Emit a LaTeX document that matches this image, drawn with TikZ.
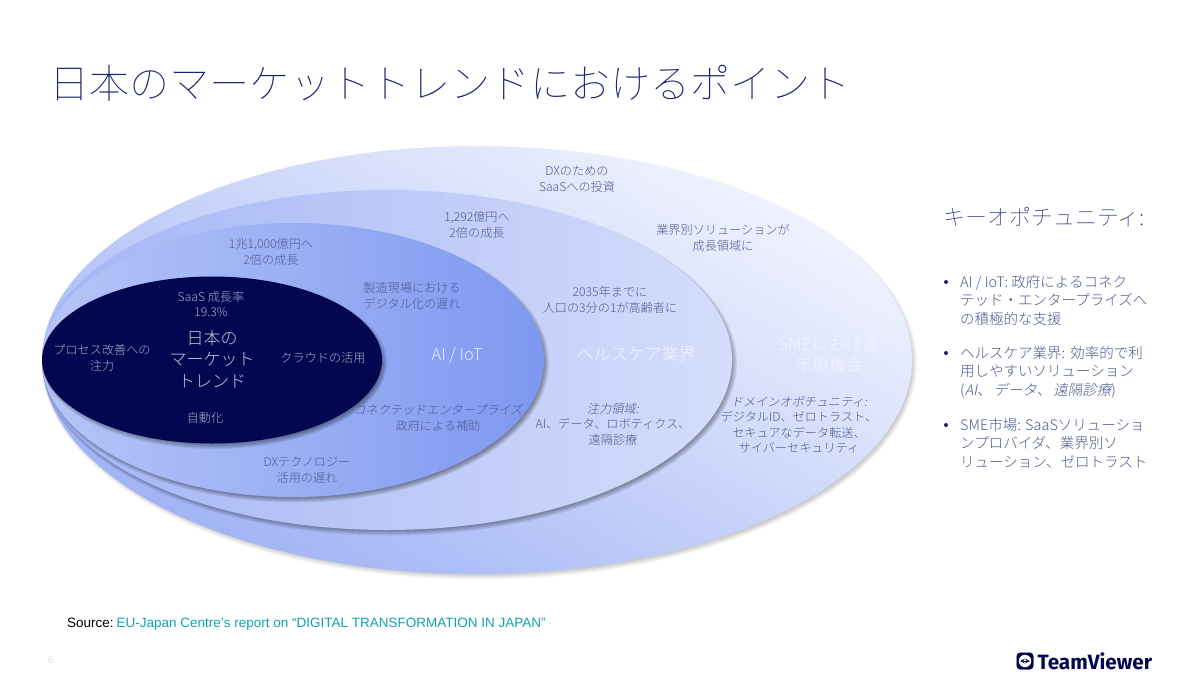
\documentclass[tikz,border=0pt]{standalone}
\usepackage{fontspec}
\setmainfont{Noto Sans CJK JP Light}
\newfontfamily\jpit[FakeSlant=0.2]{Noto Sans CJK JP Light}
\newfontfamily\jpthin{Noto Sans CJK JP Thin}
\newfontfamily\srcfont{Liberation Sans}
\newfontfamily\logofont{Fira Sans}[UprightFont=* Bold]
\definecolor{navy}{HTML}{020750}
\definecolor{lbl}{HTML}{4F5A92}
\definecolor{ttl}{HTML}{1A2470}
\definecolor{inlbl}{HTML}{A8ACC8}
\definecolor{teal}{HTML}{12A3B0}
\definecolor{oa}{HTML}{F0F3FE}
\definecolor{ob}{HTML}{A0B3F5}
\definecolor{sa}{HTML}{A3B5F5}
\definecolor{sb}{HTML}{D5DDFB}
\definecolor{ta}{HTML}{B6C5F7}
\definecolor{tm}{HTML}{9DB1F4}
\definecolor{tb}{HTML}{7E98F0}
\newcommand{\softshadow}[5]{%
  \foreach \k in {5,4,3,2,1,0}{%
    \fill[black,opacity=#5] (#1+2.5,#2+3) ellipse ({#3+\k-2.5} and {#4+\k-2.5});}}
\tikzset{
  lab/.style={font=\fontsize{12.15}{15.5}\selectfont,text=lbl,align=center,inner sep=0pt},
  inlab/.style={lab,text=inlbl},
  biglab/.style={font=\fontsize{17}{21.5}\selectfont,align=center,inner sep=0pt},
  bul/.style={font=\fontsize{14.5}{18.5}\selectfont,text=lbl,align=left,anchor=north west,inner sep=0pt},
  dot/.style={circle,fill=ttl,inner sep=0pt,minimum size=4pt}
}
\begin{document}
\begin{tikzpicture}[x=1pt,y=-1pt]
\useasboundingbox (0,0) rectangle (1200,675);
\fill[white] (0,0) rectangle (1200,675);
\node[anchor=west,inner sep=0pt,text=ttl,font=\jpthin\fontsize{40.05}{44}\selectfont] (title) at (49.5,83) {日本のマーケットトレンドにおけるポイント};
% ellipses
\softshadow{477}{360}{435}{214}{0.035}
\shade[top color=oa,bottom color=ob,shading angle=-30] (477,360) ellipse (435 and 214);
\softshadow{387}{360}{345}{170}{0.065}
\shade[left color=sa,right color=sb] (387,360) ellipse (345 and 170);
\softshadow{293}{360}{251}{137}{0.075}
\shade[left color=ta,middle color=tm,right color=tb] (293,360) ellipse (251 and 137);
\softshadow{212}{360}{170}{83.5}{0.075}
\fill[navy] (212,360) ellipse (170 and 83.5);
% labels outer
\node[lab] (dx) at (577,179) {DXのための\\SaaSへの投資};
\node[lab] (gyo) at (723,238) {業界別ソリューションが\\成長領域に};
\node[biglab,text=white,opacity=.6] (sme) at (829,355) {SMEにおける\\市場機会};
\node[lab] (dom) at (799,425) {{\jpit ドメインオポチュニティ:}\\デジタルID、ゼロトラスト、\\セキュアなデータ転送、\\サイバーセキュリティ};
% second
\node[lab] (oku) at (477,225) {1,292億円へ\\2倍の成長};
\node[lab] (y35) at (610,300) {2035年までに\\人口の3分の1が高齢者に};
\node[biglab,text=white,opacity=.75] (hc) at (636,354) {ヘルスケア業界};
\node[lab] (chu) at (613,424) {{\jpit 注力領域:}\\AI、データ、ロボティクス、\\遠隔診療};
\node[lab] (dxt) at (307,470) {DXテクノロジー\\活用の遅れ};
% third
\node[lab] (cho) at (271,252) {1兆1,000億円へ\\2倍の成長};
\node[lab] (sei) at (412,296) {製造現場における\\デジタル化の遅れ};
\node[biglab,text=white,opacity=.8,font=\fontsize{16.5}{21}\selectfont] (ai) at (457,355) {AI / IoT};
\node[lab] (con) at (438,418) {{\jpit コネクテッドエンタープライズ}\\政府による補助};
% inner
\node[inlab] (saas) at (211,304) {SaaS 成長率\\19.3\%};
\node[inlab] (pro) at (102,358) {プロセス改善への\\注力};
\node[biglab,text=inlbl!70!white,font=\fontsize{17}{21.5}\selectfont] (ctr) at (212,359) {日本の\\マーケット\\トレンド};
\node[inlab] (cl) at (323,358) {クラウドの活用};
\node[inlab] (aut) at (205,418) {自動化};
% right column
\node[anchor=west,inner sep=0pt,text=ttl,font=\jpthin\fontsize{21.9}{24}\selectfont] (key) at (943.5,217) {キーオポチュニティ:};
\node[dot] (b1) at (946,282) {};
\node[bul] (t1) at (960,275) {AI / IoT: 政府によるコネク\\テッド・エンタープライズへ\\の積極的な支援};
\node[dot] (b2) at (946,353) {};
\node[bul] (t2) at (960,346) {ヘルスケア業界:\hspace{5pt}効率的で利\\用しやすいソリューション\\({\jpit AI、\hspace{2pt}データ、\hspace{2pt}遠隔診療})};
\node[dot] (b3) at (946,425) {};
\node[bul] (t3) at (960,418) {SME市場: SaaSソリューショ\\ンプロバイダ、業界別ソ\\リューション、ゼロトラスト};
% footer
\node[anchor=west,inner sep=0pt,font=\srcfont\fontsize{13.5}{16}\selectfont] (src) at (67,624) {Source:\hspace{3pt}\textcolor{teal}{EU-Japan Centre’s report on “DIGITAL TRANSFORMATION IN JAPAN”}};
\node[anchor=west,inner sep=0pt,text=black!18,font=\fontsize{10}{12}\selectfont] (pg) at (48,660) {6};
% logo
\node[draw=navy,fill=navy,rounded corners=3.5pt,minimum size=16.5pt,inner sep=0pt] (lg) at (1025,661) {};
\fill[white] (lg.center) circle (6.2);
\draw[navy,line width=1pt,<->,>={stealth}] ([xshift=-4.8pt]lg.center) -- ([xshift=4.8pt]lg.center);
\node[anchor=west,inner sep=0pt,text=navy,font=\logofont\fontsize{20.7}{22}\selectfont] (tv) at (1037.5,661) {TeamViewer};
\end{tikzpicture}
\end{document}
